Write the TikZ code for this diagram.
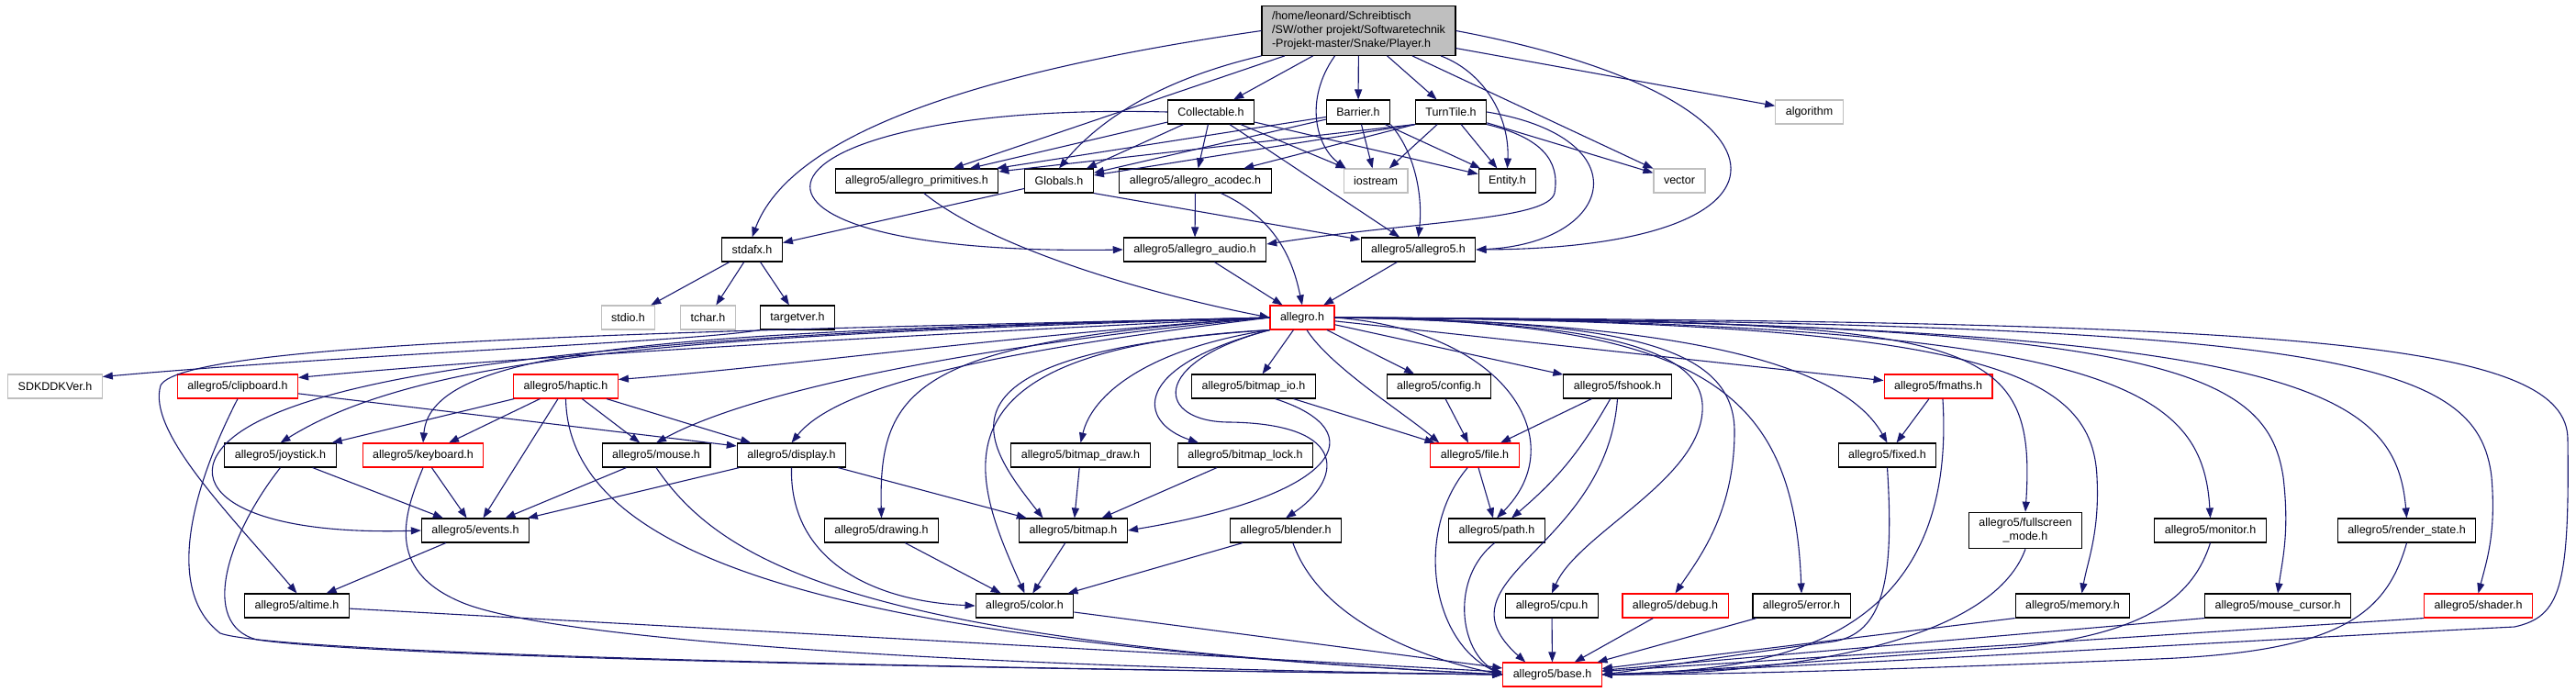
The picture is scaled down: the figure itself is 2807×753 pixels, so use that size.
\documentclass[tikz,border=0pt]{standalone}
\usepackage{fontspec}
\setmainfont{Liberation Sans}
\usetikzlibrary{arrows.meta}
\definecolor{edgeblue}{HTML}{191970}
\definecolor{sysgray}{HTML}{BFBFBF}

\begin{document}
\begin{tikzpicture}[x=1pt,y=1pt,
  hdr/.style={draw=black,fill=white,line width=1.1pt,font=\fontsize{12.5}{15}\selectfont,
    inner xsep=11pt,inner ysep=0pt,minimum height=26pt},
  sys/.style={hdr,draw=sysgray},
  cut/.style={hdr,draw=red},
  dep/.style={draw=edgeblue,line width=1.1pt,-{Triangle[length=11pt,width=8pt]}}]
  \useasboundingbox (0,0) rectangle (2807,-753);
  % the file itself
  \node[hdr,fill=sysgray,align=left,inner ysep=6pt] (player) at (1480.5,-33.5)
    {/home/leonard/Schreibtisch\\/SW/other projekt/Softwaretechnik\\-Projekt-master/Snake/Player.h};
  % project headers
  \node[hdr] (collectable) at (1319.5,-122) {Collectable.h};
  \node[hdr] (barrier) at (1480,-122) {Barrier.h};
  \node[hdr] (turntile) at (1581,-122) {TurnTile.h};
  \node[sys] (algorithm) at (1971.5,-122) {algorithm};
  \node[hdr] (prims) at (999,-197) {allegro5/allegro\_primitives.h};
  \node[hdr] (globals) at (1154,-197) {Globals.h};
  \node[hdr] (acodec) at (1302.5,-197) {allegro5/allegro\_acodec.h};
  \node[sys] (iostream) at (1499,-197) {iostream};
  \node[hdr] (entity) at (1642.5,-197) {Entity.h};
  \node[sys] (vector) at (1830,-197) {vector};
  \node[hdr] (stdafx) at (819.5,-272) {stdafx.h};
  \node[hdr] (audio) at (1302,-272) {allegro5/allegro\_audio.h};
  \node[hdr] (a5) at (1545.5,-272) {allegro5/allegro5.h};
  \node[sys] (stdio) at (684.5,-346) {stdio.h};
  \node[sys] (tchar) at (771.5,-346) {tchar.h};
  \node[hdr] (targetver) at (869,-346) {targetver.h};
  \node[cut] (allegro) at (1419,-346) {allegro.h};
  % allegro headers
  \node[sys] (sdkddkver) at (60,-421) {SDKDDKVer.h};
  \node[cut] (clipboard) at (259,-421) {allegro5/clipboard.h};
  \node[cut] (haptic) at (616.5,-421) {allegro5/haptic.h};
  \node[hdr] (bmpio) at (1366,-421) {allegro5/bitmap\_io.h};
  \node[hdr] (config) at (1568,-421) {allegro5/config.h};
  \node[hdr] (fshook) at (1762.5,-421) {allegro5/fshook.h};
  \node[cut] (fmaths) at (2112,-421) {allegro5/fmaths.h};
  \node[hdr] (joystick) at (305.5,-496) {allegro5/joystick.h};
  \node[cut] (keyboard) at (461,-496) {allegro5/keyboard.h};
  \node[hdr] (mouse) at (715,-496) {allegro5/mouse.h};
  \node[hdr] (display) at (862.5,-496) {allegro5/display.h};
  \node[hdr] (bmpdraw) at (1177.5,-496) {allegro5/bitmap\_draw.h};
  \node[hdr] (bmplock) at (1357,-496) {allegro5/bitmap\_lock.h};
  \node[cut] (file) at (1607,-496) {allegro5/file.h};
  \node[hdr] (fixed) at (2056.5,-496) {allegro5/fixed.h};
  \node[hdr] (events) at (518,-578) {allegro5/events.h};
  \node[hdr] (drawing) at (960.5,-578) {allegro5/drawing.h};
  \node[hdr] (bitmap) at (1169.5,-578) {allegro5/bitmap.h};
  \node[hdr] (blender) at (1401,-578) {allegro5/blender.h};
  \node[hdr] (fpath) at (1631,-578) {allegro5/path.h};
  \node[hdr,align=center,inner ysep=6.5pt] (fullscreen) at (2207,-578) {allegro5/fullscreen\\\_mode.h};
  \node[hdr] (monitor) at (2408.5,-578) {allegro5/monitor.h};
  \node[hdr] (renderstate) at (2622.5,-578) {allegro5/render\_state.h};
  \node[hdr] (altime) at (323.5,-660) {allegro5/altime.h};
  \node[hdr] (color) at (1116.5,-660) {allegro5/color.h};
  \node[hdr] (cpu) at (1691,-660) {allegro5/cpu.h};
  \node[cut] (debug) at (1825.5,-660) {allegro5/debug.h};
  \node[hdr] (error) at (1963,-660) {allegro5/error.h};
  \node[hdr] (memory) at (2258.5,-660) {allegro5/memory.h};
  \node[hdr] (mousecursor) at (2482,-660) {allegro5/mouse\_cursor.h};
  \node[cut] (shader) at (2700.5,-660) {allegro5/shader.h};
  \node[cut] (base) at (1691.5,-735) {allegro5/base.h};

  % Player.h includes
  \draw[dep] (player.west) .. controls (1050,-80) and (860,-150) .. (stdafx.north);
  \draw[dep] (player) -- (prims);
  \draw[dep] (player.south west) .. controls (1250,-90) and (1190,-140) .. (globals.north);
  \draw[dep] (player) -- (collectable);
  \draw[dep] ([xshift=-26pt]player.south) .. controls (1420,-110) and (1435,-160) .. ([xshift=3pt]iostream.north west);
  \draw[dep] (player) -- (barrier);
  \draw[dep] (player) -- (turntile);
  \draw[dep] (player) -- (vector);
  \draw[dep] (player.-17) .. controls (1620,-80) and (1645,-130) .. (entity.north);
  \draw[dep] (player.east) .. controls (1970,-105) and (1990,-270) .. (a5.east);
  \draw[dep] (player) -- (algorithm);
  % Collectable.h
  \draw[dep] (collectable.west) .. controls (800,-110) and (730,-280) .. (audio.west);
  \draw[dep] (collectable) -- (prims);
  \draw[dep] (collectable) -- (globals);
  \draw[dep] (collectable) -- (acodec);
  \draw[dep] (collectable) -- (a5);
  \draw[dep] (collectable) -- (iostream);
  \draw[dep] (collectable) -- (entity);
  % Barrier.h
  \draw[dep] (barrier) -- (prims);
  \draw[dep] (barrier) -- (globals);
  \draw[dep] (barrier) -- (iostream);
  \draw[dep] (barrier.south east) .. controls (1545,-170) and (1550,-220) .. (a5.north);
  \draw[dep] (barrier) -- (entity);
  % TurnTile.h
  \draw[dep] (turntile.south west) -- (prims);
  \draw[dep] (turntile.south west) -- (globals);
  \draw[dep] (turntile.south west) -- (acodec);
  \draw[dep] (turntile) -- (iostream);
  \draw[dep] (turntile) -- (entity);
  \draw[dep] (turntile.south east) .. controls (1680,-150) and (1700,-175) .. (1694,-210)
    .. controls (1688,-240) and (1550,-240) .. ([yshift=6pt]audio.east);
  \draw[dep] (turntile.east) .. controls (1790,-150) and (1760,-265) .. (a5.east);
  \draw[dep] (turntile) -- (vector);
  % Globals.h and the allegro addons
  \draw[dep] (globals) -- (stdafx);
  \draw[dep] (globals.south east) -- (a5);
  \draw[dep] (prims.-60) .. controls (1080,-270) and (1250,-320) .. (allegro.west);
  \draw[dep] (acodec) -- (audio);
  \draw[dep] ([xshift=28pt]acodec.south) .. controls (1395,-240) and (1410,-290) .. (allegro.north);
  \draw[dep] (audio) -- (allegro);
  \draw[dep] (a5) -- (allegro);
  % stdafx.h
  \draw[dep] (stdafx) -- (stdio);
  \draw[dep] (stdafx) -- (tchar);
  \draw[dep] (stdafx) -- (targetver);
  \draw[dep] (targetver.south west) .. controls (760,-372) and (400,-385) .. ([yshift=-3pt]sdkddkver.north east);

  % allegro.h, to the left
  \draw[dep] (allegro.west) .. controls (1100,-360) and (600,-385) .. ([yshift=-4pt]clipboard.north east);
  \draw[dep] (allegro.west) .. controls (1100,-365) and (850,-400) .. ([yshift=-6pt]haptic.north east);
  \draw[dep] (allegro.west) .. controls (800,-365) and (470,-380) .. (joystick.north);
  \draw[dep] (allegro.west) .. controls (750,-362) and (470,-375) .. (keyboard.north);
  \draw[dep] (allegro.west) .. controls (1100,-372) and (830,-420) .. (mouse.north);
  \draw[dep] (allegro.west) .. controls (1150,-375) and (920,-410) .. (display.north);
  \draw[dep] (allegro.west) .. controls (800,-360) and (430,-390) .. (290,-455)
    .. controls (180,-505) and (220,-585) .. (events.west);
  \draw[dep] (allegro.west) .. controls (800,-360) and (200,-370) .. (175,-420)
    .. controls (160,-470) and (250,-560) .. (altime.north);
  \draw[dep] (allegro.west) .. controls (1000,-372) and (957,-420) .. (drawing.north);
  \draw[dep] (allegro.south west) .. controls (1000,-380) and (1060,-520) .. (color.north);
  \draw[dep] (allegro.south west) .. controls (1000,-385) and (1070,-480) .. ([xshift=-33pt]bitmap.north);
  \draw[dep] (allegro.south west) .. controls (1250,-380) and (1190,-430) .. (bmpdraw.north);
  \draw[dep] (allegro.south west) .. controls (1230,-400) and (1240,-460) .. ([xshift=-51pt]bmplock.north);
  \draw[dep] (allegro.south west) .. controls (1250,-395) and (1260,-460) .. (1340,-460)
    .. controls (1475,-462) and (1460,-525) .. (blender.north);
  \draw[dep] (allegro) -- (bmpio);
  % allegro.h, to the right
  \draw[dep] (allegro.-70) .. controls (1450,-400) and (1530,-450) .. ([xshift=10pt]file.north west);
  \draw[dep] (allegro) -- (config);
  \draw[dep] (allegro) -- (fshook);
  \draw[dep] (allegro.east) .. controls (1640,-360) and (1715,-480) .. (fpath.north);
  \draw[dep] (allegro.east) .. controls (1700,-350) and (1850,-370) .. (1855,-440)
    .. controls (1860,-520) and (1720,-580) .. (cpu.north);
  \draw[dep] (allegro.east) .. controls (1750,-350) and (1890,-370) .. (1890,-470)
    .. controls (1890,-560) and (1850,-610) .. (debug.north);
  \draw[dep] (allegro.east) .. controls (1850,-350) and (1955,-420) .. (error.north);
  \draw[dep] (allegro) -- (fmaths);
  \draw[dep] (allegro.east) .. controls (1850,-350) and (2010,-400) .. (fixed.north);
  \draw[dep] (allegro.east) .. controls (2150,-350) and (2220,-360) .. (fullscreen.north);
  \draw[dep] (allegro.east) .. controls (2150,-350) and (2280,-400) .. (2285,-520)
    .. controls (2288,-580) and (2275,-610) .. ([xshift=10pt]memory.north);
  \draw[dep] (allegro.east) .. controls (2300,-350) and (2400,-420) .. (monitor.north);
  \draw[dep] (allegro.east) .. controls (2350,-350) and (2470,-400) .. (2488,-520)
    .. controls (2495,-580) and (2487,-610) .. (mousecursor.north);
  \draw[dep] (allegro.east) .. controls (2500,-352) and (2610,-420) .. (renderstate.north);
  \draw[dep] (allegro.east) .. controls (2550,-352) and (2700,-390) .. (2715,-520)
    .. controls (2720,-580) and (2710,-610) .. (shader.north);
  \draw[dep] (allegro.east) .. controls (2500,-350) and (2800,-370) .. (2798,-480)
    .. controls (2800,-640) and (2790,-672) .. (2740,-683)
    .. controls (2500,-695) and (2000,-725) .. (base.east);

  % input and display headers
  \draw[dep] (clipboard) -- ([yshift=10pt]display.west);
  \draw[dep] (clipboard.south) .. controls (215,-520) and (175,-640) .. (240,-690)
    .. controls (300,-712) and (1000,-728) .. (base.west);
  \draw[dep] (haptic) -- (joystick);
  \draw[dep] (haptic) -- (keyboard);
  \draw[dep] (haptic) -- (events);
  \draw[dep] (haptic) -- (mouse);
  \draw[dep] (haptic) -- (display);
  \draw[dep] (haptic.south) .. controls (620,-620) and (950,-700) .. (base.west);
  \draw[dep] (joystick) -- (events);
  \draw[dep] (joystick.south) .. controls (250,-580) and (215,-680) .. (280,-697)
    .. controls (400,-715) and (1000,-728) .. (base.west);
  \draw[dep] (keyboard) -- (events);
  \draw[dep] (keyboard.south) .. controls (440,-560) and (420,-620) .. (500,-655)
    .. controls (600,-700) and (1100,-728) .. (base.west);
  \draw[dep] (mouse) -- (events);
  \draw[dep] (mouse.south) .. controls (790,-620) and (950,-700) .. (base.west);
  \draw[dep] (display) -- (events);
  \draw[dep] (display.south) .. controls (860,-610) and (950,-655) .. (color.west);
  \draw[dep] (display) -- (bitmap);
  \draw[dep] (events) -- (altime);
  \draw[dep] (altime) -- (base);
  % bitmap and colour headers
  \draw[dep] (drawing) -- (color);
  \draw[dep] (bitmap) -- (color);
  \draw[dep] (bmpdraw) -- (bitmap);
  \draw[dep] (bmplock) -- (bitmap);
  \draw[dep] (bmpio) -- (file);
  \draw[dep] (bmpio.-30) .. controls (1500,-470) and (1460,-540) .. (bitmap.east);
  \draw[dep] (blender) -- (color);
  \draw[dep] (blender.-60) .. controls (1440,-680) and (1560,-720) .. (base.west);
  \draw[dep] (color) -- (base);
  % file system headers
  \draw[dep] (config) -- (file);
  \draw[dep] (fshook) -- (file);
  \draw[dep] (fshook) to[bend left=10] (fpath);
  \draw[dep] (fshook.south) .. controls (1750,-600) and (1560,-630) .. ([xshift=25pt]base.north west);
  \draw[dep] (file) -- (fpath);
  \draw[dep] (file.-120) .. controls (1540,-580) and (1560,-700) .. (base.west);
  \draw[dep] (fpath.-100) .. controls (1580,-630) and (1590,-710) .. (base.west);
  % the rest into base.h
  \draw[dep] (cpu) -- (base);
  \draw[dep] (debug) -- (base);
  \draw[dep] (error) -- (base);
  \draw[dep] (fmaths) -- (fixed);
  \draw[dep] (fmaths.-70) .. controls (2135,-720) and (1900,-730) .. (base.east);
  \draw[dep] (fixed.south) .. controls (2065,-640) and (2050,-695) .. (1990,-700)
    .. controls (1900,-712) and (1800,-728) .. (base.east);
  \draw[dep] (fullscreen.south) .. controls (2170,-700) and (1950,-735) .. (base.east);
  \draw[dep] (memory.south west) -- (base);
  \draw[dep] (monitor.south) .. controls (2390,-650) and (2340,-690) .. (2200,-705)
    .. controls (2000,-718) and (1850,-732) .. (base.east);
  \draw[dep] (mousecursor.south west) -- (base);
  \draw[dep] (renderstate.south) .. controls (2600,-670) and (2550,-710) .. (2350,-718)
    .. controls (2100,-728) and (1900,-735) .. (base.east);
  \draw[dep] (shader.south west) -- (base);
\end{tikzpicture}
\end{document}
